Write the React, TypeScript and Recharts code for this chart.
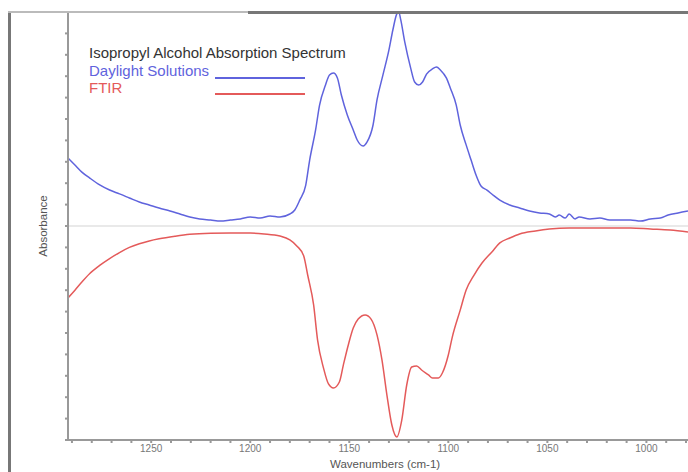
import React from 'react';
import { LineChart, Line, XAxis, YAxis, ReferenceLine } from 'recharts';

// Daylight Solutions (blue) trace
const blueWavenumbers = [
  1292, 1288.5, 1285, 1281, 1276, 1271, 1266, 1261, 1256, 1251, 1246, 1240.5, 1235.5, 1230.5,
  1225.5, 1220, 1215, 1210, 1205, 1200, 1195, 1190, 1185, 1180, 1177.5, 1175, 1172, 1170, 1167,
  1165, 1162, 1160, 1158, 1156, 1154, 1151, 1148, 1146, 1143, 1141, 1138, 1136, 1133, 1130, 1128,
  1126, 1125, 1124, 1122, 1119, 1117, 1115, 1113, 1111, 1108, 1106, 1104, 1101, 1099, 1096, 1094,
  1091, 1088.5, 1086, 1083.5, 1080.5, 1077.5, 1074, 1069, 1064, 1059, 1054, 1049, 1046, 1044, 1041,
  1039, 1036, 1034, 1028.5, 1023.5, 1018.5, 1013, 1008, 1003, 998, 993, 989, 984, 979,
];
const blueAbsorbance = [
  0.318, 0.285, 0.252, 0.224, 0.192, 0.168, 0.15, 0.131, 0.112, 0.098, 0.084, 0.07, 0.056, 0.042,
  0.033, 0.028, 0.023, 0.028, 0.033, 0.042, 0.037, 0.047, 0.042, 0.056, 0.075, 0.121, 0.19, 0.308, 0.449,
  0.565, 0.659, 0.706, 0.715, 0.692, 0.612, 0.519, 0.449, 0.402, 0.374, 0.393, 0.472, 0.589, 0.706, 0.822, 0.916,
  0.991, 1.0, 0.963, 0.86, 0.738, 0.673, 0.659, 0.673, 0.71, 0.734, 0.743, 0.729, 0.692, 0.645, 0.565, 0.472,
  0.379, 0.308, 0.238, 0.187, 0.168, 0.145, 0.121, 0.098, 0.084, 0.07, 0.061, 0.056, 0.042, 0.051, 0.037,
  0.056, 0.033, 0.042, 0.033, 0.037, 0.028, 0.028, 0.028, 0.023, 0.033, 0.037, 0.051, 0.061, 0.07,
];

// FTIR (red) trace, drawn inverted below the baseline
const redWavenumbers = [
  1292, 1288.5, 1285, 1281, 1276, 1271, 1266, 1261, 1256, 1251, 1246, 1238, 1230.5, 1220, 1210, 1200,
  1193, 1185, 1180, 1176.5, 1173, 1171, 1168, 1166, 1163, 1160.5, 1158, 1155, 1153, 1150.5, 1148,
  1145.5, 1142, 1139, 1136, 1133.5, 1131, 1128.5, 1126, 1123.5, 1121, 1118.5, 1116, 1113.5, 1110,
  1108, 1105, 1103, 1100, 1098, 1094, 1091, 1087, 1083, 1078, 1074, 1069, 1064, 1056, 1049, 1039,
  1023.5, 1008, 998, 988, 979,
];
const redAbsorbance = [
  -0.336, -0.3, -0.262, -0.222, -0.184, -0.152, -0.124, -0.1, -0.083, -0.07, -0.06, -0.048, -0.039, -0.034, -0.033, -0.033,
  -0.037, -0.047, -0.065, -0.093, -0.14, -0.229, -0.369, -0.533, -0.664, -0.738, -0.757, -0.729, -0.65, -0.556, -0.477,
  -0.435, -0.416, -0.435, -0.509, -0.626, -0.79, -0.93, -0.986, -0.907, -0.743, -0.659, -0.654, -0.673, -0.696,
  -0.71, -0.71, -0.687, -0.603, -0.519, -0.393, -0.299, -0.229, -0.173, -0.121, -0.079, -0.056, -0.037, -0.023, -0.014, -0.009,
  -0.009, -0.009, -0.014, -0.019, -0.028,
];

const xTicks = [1290, 1280, 1270, 1260, 1250, 1240, 1230, 1220, 1210, 1200, 1190, 1180, 1170, 1160, 1150, 1140,
  1130, 1120, 1110, 1100, 1090, 1080, 1070, 1060, 1050, 1040, 1030, 1020, 1010, 1000, 990, 980];
const xLabels = [1250, 1200, 1150, 1100, 1050, 1000];
const yTicks = [-1, -0.9, -0.8, -0.7, -0.6, -0.5, -0.4, -0.3, -0.2, -0.1, 0, 0.1, 0.2, 0.3, 0.4, 0.5, 0.6, 0.7, 0.8, 0.9, 1];

const blueData = blueWavenumbers.map((w, i) => ({ w, a: blueAbsorbance[i] }));
const redData = redWavenumbers.map((w, i) => ({ w, a: redAbsorbance[i] }));

const BLUE = '#5f63dd';
const RED = '#e45a5a';
const FONT = '"Liberation Sans", Arial, sans-serif';

const LegendBox = () => (
  <>
    <div style={{ position: 'absolute', left: 89, top: 44, fontFamily: FONT, fontSize: 15, lineHeight: '17.5px', whiteSpace: 'nowrap' }}>
      <div style={{ color: '#333' }}>Isopropyl Alcohol Absorption Spectrum</div>
      <div style={{ color: BLUE }}>Daylight Solutions</div>
      <div style={{ color: RED }}>FTIR</div>
    </div>
    <div style={{ position: 'absolute', left: 215, top: 77, width: 90, height: 1.5, background: BLUE }} />
    <div style={{ position: 'absolute', left: 215, top: 93, width: 90, height: 1.5, background: RED }} />
  </>
);

export default function App() {
  return (
    <div style={{ position: 'absolute', left: 0, top: 0, width: 688, height: 472, background: '#fff', overflow: 'hidden' }}>
      <LineChart width={688} height={472} margin={{ top: 12, right: 0, left: 0, bottom: 0 }}>
        <XAxis
          type="number"
          dataKey="w"
          domain={[979, 1292]}
          reversed
          ticks={xTicks}
          interval={0}
          height={32}
          stroke="#999"
          strokeWidth={2}
          tickSize={3}
          tickFormatter={(v: number) => (xLabels.includes(v) ? String(v) : '')}
          tick={{ fill: '#777', fontSize: 10, fontFamily: FONT }}
          allowDataOverflow
        />
        <YAxis
          type="number"
          domain={[-1, 1]}
          ticks={yTicks}
          width={68}
          stroke="#999"
          strokeWidth={2}
          tickSize={3}
          tickFormatter={() => ''}
          allowDataOverflow
        />
        <ReferenceLine y={0} stroke="#e2e2e2" strokeWidth={1.5} />
        <Line data={blueData} dataKey="a" type="monotone" stroke={BLUE} strokeWidth={1.5} dot={false} isAnimationActive={false} />
        <Line data={redData} dataKey="a" type="monotone" stroke={RED} strokeWidth={1.5} dot={false} isAnimationActive={false} />
      </LineChart>
      <LegendBox />
      <div style={{ position: 'absolute', left: 330, top: 458, fontFamily: FONT, fontSize: 11.5, color: '#555', whiteSpace: 'nowrap' }}>Wavenumbers (cm-1)</div>
      <div style={{ position: 'absolute', left: 43, top: 226, fontFamily: FONT, fontSize: 11.5, color: '#555', transform: 'translate(-50%, -50%) rotate(-90deg)', whiteSpace: 'nowrap' }}>Absorbance</div>
      <div style={{ position: 'absolute', left: 8, top: 11, width: 3, height: 461, background: '#777' }} />
      <div style={{ position: 'absolute', left: 8, top: 11, width: 240, height: 2, background: '#bbb' }} />
      <div style={{ position: 'absolute', left: 248, top: 11, width: 440, height: 3, background: '#777' }} />
    </div>
  );
}
